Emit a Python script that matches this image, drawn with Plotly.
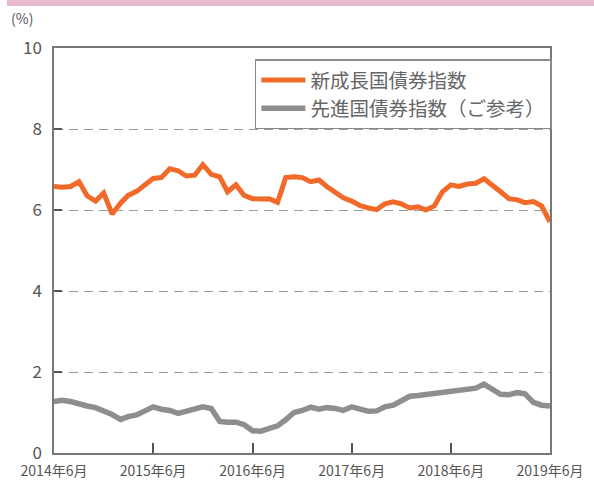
import pandas as pd
import plotly.graph_objects as go

dates = pd.date_range("2014-06-01", periods=61, freq="MS")

emerging = [6.58, 6.56, 6.58, 6.70, 6.35, 6.22, 6.42, 5.90, 6.17, 6.36,
            6.46, 6.62, 6.78, 6.80, 7.02, 6.97, 6.84, 6.86, 7.12, 6.88,
            6.82, 6.45, 6.62, 6.36, 6.28, 6.27, 6.28, 6.19, 6.80, 6.82,
            6.80, 6.70, 6.74, 6.58, 6.44, 6.30, 6.22, 6.11, 6.05, 6.01,
            6.15, 6.20, 6.15, 6.05, 6.08, 6.00, 6.10, 6.45, 6.62, 6.58,
            6.64, 6.66, 6.77, 6.62, 6.45, 6.28, 6.25, 6.18, 6.21, 6.10,
            5.71]

developed = [1.27, 1.30, 1.27, 1.20, 1.16, 1.12, 1.05, 0.95, 0.83, 0.90,
             0.94, 1.04, 1.14, 1.08, 1.05, 0.98, 1.03, 1.09, 1.14, 1.10,
             0.78, 0.76, 0.76, 0.70, 0.55, 0.54, 0.60, 0.67, 0.82, 1.00,
             1.05, 1.13, 1.08, 1.12, 1.10, 1.05, 1.14, 1.10, 1.03, 1.04,
             1.14, 1.18, 1.28, 1.40, 1.42, 1.44, 1.47, 1.49, 1.53, 1.56,
             1.56, 1.60, 1.70, 1.58, 1.45, 1.44, 1.49, 1.46, 1.25, 1.18,
             1.16]

series_names = ["新成長国債券指数", "先進国債券指数（ご参考）"]
tick_dates = ["2014-06-01", "2015-06-01", "2016-06-01", "2017-06-01",
              "2018-06-01", "2019-06-01"]
tick_labels = ["2014年6月", "2015年6月", "2016年6月", "2017年6月",
               "2018年6月", "2019年6月"]
y_ticks = [0, 2, 4, 6, 8, 10]

FONT = "Noto Sans CJK JP"
ORANGE = "#f26a2a"
GRAY = "#8e8e8e"

fig = go.Figure()
fig.add_trace(go.Scatter(x=dates, y=emerging, mode="lines", name=series_names[0],
                         line=dict(color=ORANGE, width=5)))
fig.add_trace(go.Scatter(x=dates, y=developed, mode="lines", name=series_names[1],
                         line=dict(color=GRAY, width=5.5)))

fig.update_layout(
    width=594, height=485,
    margin=dict(l=54, r=44, t=48, b=32),
    paper_bgcolor="white", plot_bgcolor="white",
    font=dict(family=FONT, color="#555555"),
    showlegend=True,
    legend=dict(x=0.405, y=0.972, xanchor="left", yanchor="top",
                bordercolor="#8a8a8a", borderwidth=1.5, bgcolor="white",
                font=dict(size=19.5, color="#666666", family=FONT),
                itemwidth=44, tracegroupgap=0),
    xaxis=dict(
        type="date", range=["2014-06-01", "2019-06-01"],
        tickvals=tick_dates, ticktext=tick_labels,
        tickfont=dict(size=14, color="#555555"),
        ticks="inside", ticklen=10, tickwidth=1.5, tickcolor="#555555",
        ticklabelstandoff=4,
        showline=True, linecolor="#777777", linewidth=1.5, mirror=True,
        showgrid=False, zeroline=False, automargin=False,
    ),
    yaxis=dict(
        range=[0, 10], tickvals=y_ticks,
        tickfont=dict(size=17, color="#555555"),
        ticks="inside", ticklen=8, tickwidth=1.5, tickcolor="#555555",
        ticklabelstandoff=7,
        showline=True, linecolor="#777777", linewidth=1.5, mirror=True,
        showgrid=True, gridcolor="#9a9a9a", gridwidth=1.3, griddash="9px,6px",
        zeroline=False, automargin=False,
    ),
    shapes=[dict(type="rect", xref="paper", yref="paper",
                 x0=-0.095, x1=1.1, y0=1.104, y1=1.125,
                 fillcolor="#e8bad0", line=dict(width=0), layer="below")],
    annotations=[dict(text="(%)", xref="paper", yref="paper",
                      x=-0.09, y=1.045, xanchor="left", yanchor="bottom",
                      showarrow=False, font=dict(size=14, color="#555555"))],
)

fig.write_html("out.html", config={"displayModeBar": False},
               post_script="document.body.style.margin='0';")
